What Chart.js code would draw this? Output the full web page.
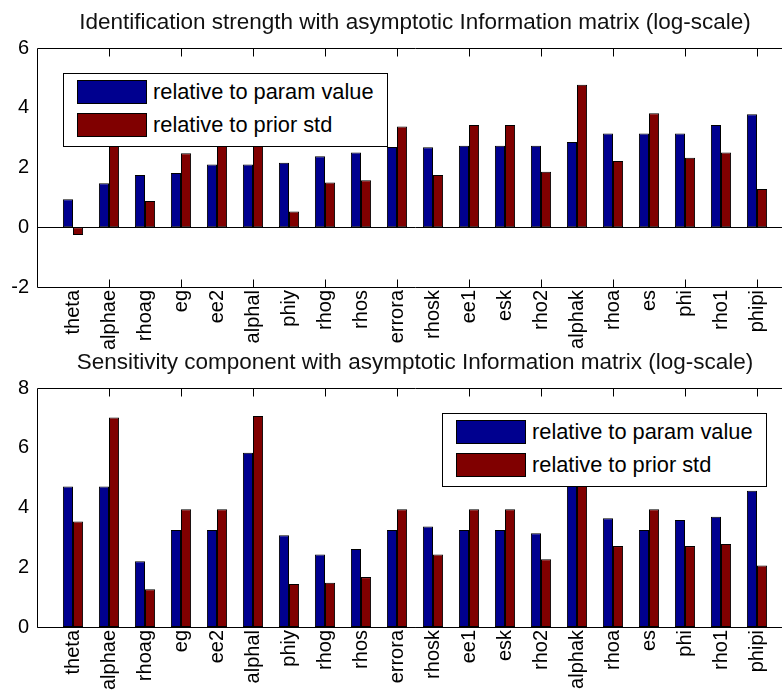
<!DOCTYPE html>
<html><head><meta charset="utf-8">
<script src="https://cdn.jsdelivr.net/npm/chart.js@4.4.0/dist/chart.umd.min.js"></script>
<style>
html,body{margin:0;padding:0;background:#fff;overflow:hidden}
#wrap{position:relative;width:782px;height:694px;overflow:hidden;background:#fff}
canvas{position:absolute;left:0}
.legend{position:absolute;border:1px solid #000;background:#fff;box-sizing:border-box;font-family:"Liberation Sans",Arial,sans-serif;font-size:21.8px;color:#000}
.legend .row{position:absolute;left:13px;display:flex;align-items:center;height:24px;white-space:nowrap}
.legend .sw{width:70px;height:24px;box-sizing:border-box;border:1px solid #000;margin-right:6px}
</style></head><body>
<div id="wrap">
<canvas id="c1" width="830" height="350" style="top:0"></canvas>
<canvas id="c2" width="830" height="354" style="top:340px"></canvas>
<div class="legend" id="lg1" style="left:63px;top:73px;width:325px;height:74px"></div>
<div class="legend" id="lg2" style="left:442px;top:413px;width:325px;height:74px"></div>
</div>
<script>
const categories = ['theta','alphae','rhoag','eg','ee2','alphal','phiy','rhog','rhos','errora','rhosk','ee1','esk','rho2','alphak','rhoa','es','phi','rho1','phipi'];
const seriesNames = ['relative to param value','relative to prior std'];
const identParam = [0.94,1.47,1.75,1.82,2.10,2.10,2.16,2.38,2.50,2.69,2.68,2.73,2.73,2.73,2.85,3.14,3.14,3.14,3.42,3.78];
const identPrior = [-0.26,3.77,0.88,2.48,2.77,3.30,0.53,1.50,1.57,3.37,1.75,3.42,3.42,1.86,4.77,2.22,3.82,2.33,2.50,1.28];
const sensParam = [4.70,4.70,2.20,3.25,3.25,5.83,3.07,2.43,2.61,3.25,3.36,3.25,3.25,3.14,5.10,3.64,3.25,3.58,3.69,4.56];
const sensPrior = [3.53,7.01,1.26,3.94,3.94,7.06,1.44,1.48,1.67,3.94,2.43,3.94,3.94,2.27,7.02,2.71,3.94,2.71,2.78,2.06];
const identTicks = [-2,0,2,4,6];
const sensTicks = [0,2,4,6,8];
const titles = ['Identification strength with asymptotic Information matrix (log-scale)','Sensitivity component with asymptotic Information matrix (log-scale)'];

const FONT = '"Liberation Sans", Arial, sans-serif';
const BLUE = '#00008f';
const RED = '#800000';

const frame = {
  id:'frame',
  afterDatasetsDraw(chart){
    const {ctx, chartArea:a, scales:{x,y}} = chart;
    ctx.save();
    ctx.strokeStyle='#000'; ctx.lineWidth=1;
    ctx.beginPath();
    const L=Math.round(a.left)+0.5, T=Math.round(a.top)+0.5, B=Math.round(a.bottom)+0.5, R=Math.round(a.right)+0.5;
    ctx.moveTo(L,T); ctx.lineTo(R,T); ctx.moveTo(L,T); ctx.lineTo(L,B); ctx.lineTo(R,B); ctx.lineTo(R,T);
    const z = Math.round(y.getPixelForValue(0))+0.5;
    ctx.moveTo(L,z); ctx.lineTo(R,z);
    for (let i=2;i<chart.data.labels.length-1;i+=2){
      const px=Math.round(x.getPixelForValue(i))+0.5;
      ctx.moveTo(px,T); ctx.lineTo(px,T+8);
      ctx.moveTo(px,B); ctx.lineTo(px,B-8);
    }
    ctx.stroke(); ctx.restore();
  }
};

function makeChart(id, p, q, yTicks, titleText, axisH){
  const labels = ['', ...categories, ''];
  return new Chart(document.getElementById(id), {
    type:'bar',
    data:{labels, datasets:[
      {label:seriesNames[0], data:[null,...p,null], backgroundColor:BLUE, borderColor:'#000', borderWidth:1, borderSkipped:false},
      {label:seriesNames[1], data:[null,...q,null], backgroundColor:RED, borderColor:'#000', borderWidth:1, borderSkipped:false}
    ]},
    options:{
      responsive:false, animation:false, devicePixelRatio:1,
      layout:{padding:{left:0,right:37,top:0,bottom:0}},
      plugins:{legend:{display:false}, tooltip:{enabled:false},
        title:{display:true,fullSize:false,text:titleText,color:'#111',font:{family:FONT,size:22.5,weight:'normal',lineHeight:1.2},padding:{top:9.5,bottom:11.5}}},
      datasets:{bar:{barPercentage:1, categoryPercentage:0.56}},
      scales:{
        x:{type:'category', offset:false, grid:{display:false,drawTicks:false}, border:{display:false},
           ticks:{autoSkip:false, minRotation:90, maxRotation:90, padding:3, color:'#000', font:{family:FONT,size:20}},
           afterFit:s=>{s.height=axisH;}},
        y:{min:yTicks[0], max:yTicks[yTicks.length-1], grid:{display:false,drawTicks:false}, border:{display:false},
           ticks:{padding:8,color:'#000',font:{family:FONT,size:20}},
           afterBuildTicks:s=>{s.ticks=yTicks.map(v=>({value:v}));},
           afterFit:s=>{s.width=37;}}
      }
    },
    plugins:[frame]
  });
}
makeChart('c1', identParam, identPrior, identTicks, titles[0], 63);
makeChart('c2', sensParam, sensPrior, sensTicks, titles[1], 67);

function buildLegend(id){
  const el=document.getElementById(id);
  const cols=[BLUE,RED], tops=[6,39];
  seriesNames.forEach((n,i)=>{
    const r=document.createElement('div'); r.className='row'; r.style.top=tops[i]+'px';
    const s=document.createElement('div'); s.className='sw'; s.style.background=cols[i];
    const t=document.createElement('span'); t.textContent=n;
    r.appendChild(s); r.appendChild(t); el.appendChild(r);
  });
}
buildLegend('lg1'); buildLegend('lg2');
</script>
</body></html>
